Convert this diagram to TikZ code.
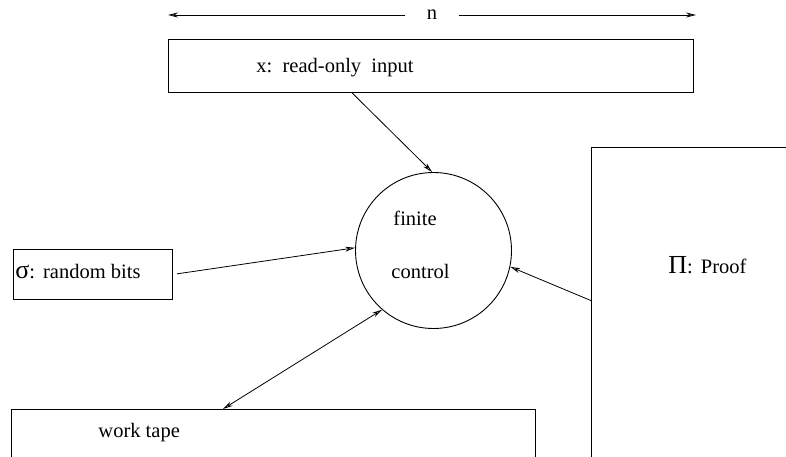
\documentclass[tikz,border=0pt]{standalone}
\usepackage{fontspec}
\setmainfont{Liberation Serif}
\usetikzlibrary{arrows.meta,calc}
\newcommand{\bigsym}[1]{{\fontsize{26}{28}\selectfont #1}}
\begin{document}
\begin{tikzpicture}[x=1pt,y=-1pt,
  line width=0.9pt,
  >={Stealth[length=10pt,width=5pt,open]},
  txt/.style={font=\fontsize{20.5}{24}\selectfont, inner sep=0pt},
  tapebox/.style={draw, rectangle, inner sep=0pt, anchor=north west},
  conn/.style={->, line width=0.8pt}]
\useasboundingbox (0,0) rectangle (786,457);
\clip (0,0) rectangle (786,457);
\fill[white] (0,0) rectangle (786,457);

% input tape
\node[tapebox, minimum width=525, minimum height=53] (inbox) at (168,39) {};
\node[txt, anchor=base west] (intxt) at (256,73) {x:\ \ read-only\ \ input};

% length marker
\node[txt, minimum width=53, minimum height=14] (nlab) at (432,15) {n};
\coordinate (nL) at (168,15);
\coordinate (nR) at (696,15);
\draw[conn] (nlab.west) -- (nL);
\draw[conn] (nlab.east) -- (nR);

% finite control
\node[draw, circle, minimum size=156, inner sep=0pt] (fc) at (433.5,250.5) {};
\node[txt, anchor=base west] (fin) at (393,225) {finite};
\node[txt, anchor=base west] (ctl) at (391,278) {control};

% random bits
\node[tapebox, minimum width=159, minimum height=50] (sig) at (13,249) {};
\node[txt, anchor=base west] (sigtxt) at (15,278) {\bigsym{σ}:\hspace{8pt}random bits};

% proof
\node[tapebox, minimum width=400, minimum height=500] (proof) at (591,147) {};
\node[txt, anchor=base west] (prtxt) at (668,273) {\bigsym{Π}:\hspace{8pt}Proof};

% work tape
\node[tapebox, minimum width=524, minimum height=100] (work) at (11,409) {};
\node[txt, anchor=base west] (wtxt) at (98,437) {work tape};

% connectors
\draw[conn] ($(inbox.south west)!0.35!(inbox.south east)$) -- (fc.91);
\draw[conn, shorten <=4pt] (sig.east) -- (fc.178);
\draw[conn] ($(proof.north west)+(1,154)$) -- (fc.348);
\draw[conn, <->] ($(work.north west)+(212,0)$) -- (fc.229);
\end{tikzpicture}
\end{document}
